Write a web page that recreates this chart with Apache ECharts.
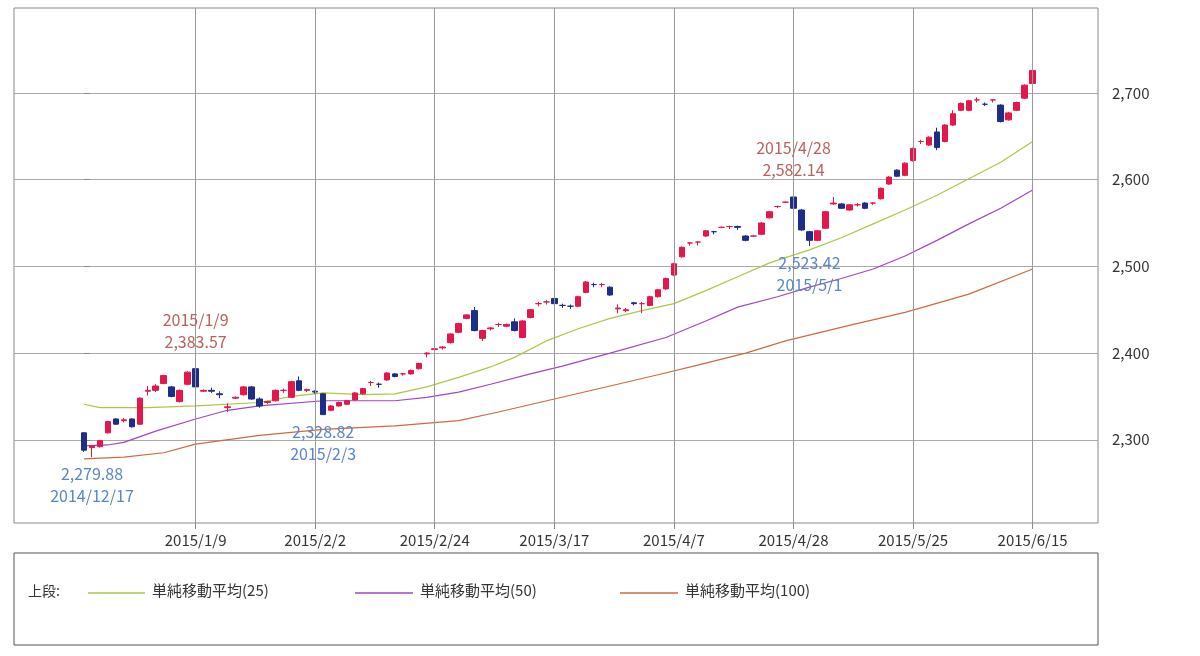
<!DOCTYPE html>
<html>
<head>
<meta charset="utf-8">
<script src="https://cdn.jsdelivr.net/npm/echarts@6/dist/echarts.min.js"></script>
<style>
  html, body { margin: 0; padding: 0; background: #fff; }
  #chart { width: 1200px; height: 656px; }
</style>
</head>
<body>
<div id="chart"></div>
<script>
// trading days, grouped by month
var tradingDays = [
    ['2014/12', [16, 17, 18, 19, 22, 24, 25, 26, 29, 30]],
    ['2015/1', [5, 6, 7, 8, 9, 13, 14, 15, 16, 19, 20, 21, 22, 23, 26, 27, 28, 29, 30]],
    ['2015/2', [2, 3, 4, 5, 6, 9, 10, 12, 13, 16, 17, 18, 19, 20, 23, 24, 25, 26, 27]],
    ['2015/3', [2, 3, 4, 5, 6, 9, 10, 11, 12, 13, 16, 17, 18, 19, 20, 23, 24, 25, 26, 27, 30, 31]],
    ['2015/4', [1, 2, 3, 6, 7, 8, 9, 10, 13, 14, 15, 16, 17, 20, 21, 22, 23, 24, 27, 28, 30]],
    ['2015/5', [1, 7, 8, 11, 12, 13, 14, 15, 18, 19, 20, 21, 22, 25, 26, 27, 28, 29]],
    ['2015/6', [1, 2, 3, 4, 5, 8, 9, 10, 11, 12, 15]]
];
// [open, close, low, high]
var ohlc = [
    [2308, 2288, 2286, 2309], [2291, 2293, 2279.88, 2294], [2292, 2299, 2291, 2300], [2308, 2321, 2307, 2322],
    [2324, 2318, 2317, 2325], [2322, 2323, 2320, 2325], [2324, 2315, 2314, 2325], [2318, 2348, 2317, 2349],
    [2356, 2357, 2351, 2362], [2357, 2362, 2355, 2364], [2365, 2374, 2364, 2375], [2361, 2350, 2349, 2362],
    [2344, 2357, 2343, 2358], [2364, 2378, 2363, 2379], [2382, 2361, 2360, 2383.57], [2356, 2357, 2355, 2358],
    [2357, 2356, 2354, 2360], [2353, 2352, 2348, 2356], [2337, 2338, 2332, 2342], [2348, 2349, 2347, 2350],
    [2352, 2361, 2351, 2362], [2361, 2347, 2346, 2362], [2347, 2339, 2337, 2349], [2343, 2344, 2341, 2345],
    [2345, 2357, 2344, 2358], [2357, 2357, 2354, 2359], [2349, 2367, 2348, 2368], [2368, 2357, 2356, 2373],
    [2357, 2358, 2355, 2359], [2356, 2355, 2353, 2357], [2353, 2329, 2328.82, 2354], [2334, 2339, 2333, 2340],
    [2339, 2343, 2338, 2344], [2341, 2345, 2340, 2346], [2346, 2354, 2345, 2355], [2353, 2359, 2352, 2360],
    [2366, 2366, 2362, 2368], [2364, 2364, 2360, 2366], [2369, 2377, 2368, 2378], [2376, 2373, 2372, 2377],
    [2376, 2376, 2374, 2377], [2376, 2380, 2375, 2381], [2382, 2388, 2381, 2389], [2399, 2400, 2395, 2401],
    [2404, 2405, 2402, 2406], [2406, 2407, 2404, 2408], [2412, 2422, 2411, 2423], [2424, 2434, 2423, 2435],
    [2440, 2444, 2439, 2445], [2449, 2426, 2425, 2453], [2417, 2426, 2414, 2427], [2428, 2429, 2426, 2430],
    [2433, 2433, 2430, 2435], [2431, 2433, 2430, 2434], [2436, 2426, 2425, 2440], [2418, 2437, 2417, 2438],
    [2441, 2450, 2440, 2451], [2457, 2457, 2454, 2459], [2459, 2459, 2456, 2461], [2463, 2457, 2456, 2464],
    [2455, 2455, 2452, 2457], [2454, 2454, 2451, 2456], [2454, 2465, 2453, 2466], [2470, 2482, 2469, 2483],
    [2479, 2479, 2476, 2481], [2479, 2479, 2476, 2481], [2476, 2467, 2466, 2477], [2451, 2452, 2446, 2456],
    [2449, 2450, 2447, 2452], [2458, 2457, 2455, 2459], [2457, 2457, 2446, 2459], [2455, 2465, 2454, 2466],
    [2465, 2473, 2464, 2474], [2474, 2486, 2473, 2487], [2490, 2503, 2489, 2504], [2511, 2522, 2510, 2523],
    [2527, 2527, 2524, 2528], [2528, 2528, 2524, 2529], [2535, 2541, 2534, 2542], [2540, 2540, 2537, 2541],
    [2545, 2545, 2544, 2546], [2546, 2546, 2543, 2547], [2546, 2545, 2542, 2547], [2535, 2530, 2529, 2536],
    [2535, 2535, 2534, 2536], [2537, 2550, 2536, 2551], [2556, 2563, 2555, 2564], [2569, 2569, 2567, 2570],
    [2574, 2574, 2573, 2575], [2580, 2567, 2566, 2582.14], [2565, 2542, 2541, 2566], [2540, 2530, 2523.42, 2541],
    [2530, 2541, 2529, 2542], [2544, 2563, 2543, 2564], [2572, 2573, 2571, 2580], [2572, 2567, 2566, 2573],
    [2565, 2571, 2564, 2572], [2571, 2571, 2569, 2573], [2573, 2567, 2566, 2574], [2573, 2573, 2571, 2574],
    [2578, 2590, 2577, 2591], [2595, 2603, 2594, 2604], [2611, 2604, 2603, 2612], [2605, 2619, 2604, 2620],
    [2622, 2636, 2621, 2637], [2644, 2644, 2641, 2646], [2640, 2649, 2639, 2650], [2655, 2637, 2634, 2660],
    [2644, 2663, 2643, 2664], [2663, 2676, 2662, 2680], [2680, 2688, 2679, 2689], [2680, 2691, 2679, 2692],
    [2692, 2692, 2689, 2695], [2687, 2687, 2685, 2689], [2692, 2692, 2689, 2693], [2686, 2667, 2666, 2687],
    [2669, 2677, 2668, 2678], [2680, 2689, 2679, 2690], [2694, 2709, 2693, 2710], [2711, 2726, 2710, 2727]
];
// moving averages read at points: [day index, value]
var ma25 = [[0, 2341], [2, 2337], [8, 2337], [14, 2339], [22, 2343], [26, 2350], [30, 2354], [35, 2352], [39, 2353],
    [43, 2361], [47, 2372], [51, 2384], [54, 2395], [58, 2414], [62, 2428], [66, 2440], [70, 2449], [74, 2457],
    [78, 2472], [82, 2488], [86, 2504], [91, 2519], [95, 2533], [99, 2549], [103, 2565], [107, 2582], [111, 2601],
    [115, 2620], [119, 2644]];
var ma50 = [[0, 2293], [3, 2294], [5, 2297], [9, 2310], [14, 2324], [18, 2334], [22, 2339], [30, 2345], [39, 2345],
    [43, 2349], [47, 2355], [51, 2364], [56, 2376], [60, 2385], [66, 2400], [73, 2418], [78, 2437], [82, 2453],
    [87, 2465], [91, 2476], [95, 2486], [99, 2497], [103, 2512], [107, 2530], [111, 2549], [115, 2567], [119, 2588]];
var ma100 = [[0, 2278], [5, 2280], [10, 2285], [14, 2295], [22, 2305], [30, 2312], [39, 2316], [47, 2322],
    [52, 2332], [59, 2347], [66, 2362], [72, 2375], [77, 2386], [83, 2400], [88, 2414], [96, 2432], [103, 2447],
    [111, 2468], [119, 2497]];
var labelDays = [14, 29, 44, 59, 74, 89, 104, 119];
var maNames = ['単純移動平均(25)', '単純移動平均(50)', '単純移動平均(100)'];

var dates = [];
tradingDays.forEach(function (m) {
    m[1].forEach(function (d) { dates.push(m[0] + '/' + d); });
});

var UP = '#e3174c', DOWN = '#1c2d8a';
var RED_TXT = '#b8625e', BLUE_TXT = '#5a86c8';
var FONT = '"Noto Sans CJK JP", sans-serif';

function fmt(v) {
    return v.toLocaleString('en-US', { minimumFractionDigits: 2, maximumFractionDigits: 2 });
}
function note(i, kind, color, dy) {
    var v = kind === 'high' ? ohlc[i][3] : ohlc[i][2];
    var text = kind === 'high' ? dates[i] + '\n' + fmt(v) : fmt(v) + '\n' + dates[i];
    return {
        coord: [i, v], value: v, symbolSize: 0,
        label: { show: true, formatter: text, color: color, fontSize: 16, lineHeight: 22,
            fontFamily: FONT, offset: [0, dy] }
    };
}

var candles = ohlc.map(function (r, i) { return [i, r[0], r[1], r[2], r[3]]; });
var myChart = echarts.init(document.getElementById('chart'));

myChart.setOption({
    animation: false,
    grid: { left: 14, right: 102, top: 8, bottom: 133, show: true, borderColor: '#888', borderWidth: 1 },
    xAxis: {
        type: 'value', min: -8.78, max: 127.2,
        splitLine: { show: false },
        axisLine: { show: false },
        axisTick: { show: true, customValues: labelDays, length: 6, lineStyle: { color: '#888' } },
        axisLabel: {
            customValues: labelDays, margin: 10, color: '#333', fontSize: 15, fontFamily: FONT,
            formatter: function (v) { return dates[Math.round(v)]; }
        }
    },
    yAxis: {
        type: 'value', position: 'right', min: 2204, max: 2798, scale: true,
        splitLine: { lineStyle: { color: '#aaa' } },
        axisLine: { show: false },
        axisTick: { show: true, customValues: [2300, 2400, 2500, 2600, 2700], length: 6, lineStyle: { color: '#888' } },
        axisLabel: { color: '#333', fontSize: 15, fontFamily: FONT, margin: 14,
            customValues: [2300, 2400, 2500, 2600, 2700],
            formatter: function (v) { return v.toLocaleString('en-US'); } }
    },
    series: [{
        type: 'candlestick',
        data: candles,
        encode: { x: 0, y: [1, 2, 3, 4] },
        barWidth: 6,
        itemStyle: { color: UP, color0: DOWN, borderColor: UP, borderColor0: DOWN, borderWidth: 1 },
        markLine: {
            silent: true, symbol: 'none', label: { show: false },
            lineStyle: { color: '#999', type: 'solid', width: 1 },
            data: labelDays.map(function (d) { return { xAxis: d }; })
        },
        markPoint: {
            symbol: 'circle',
            data: [
                note(14, 'high', RED_TXT, -36),
                note(1, 'low', BLUE_TXT, 28),
                note(30, 'low', BLUE_TXT, 28),
                note(89, 'high', RED_TXT, -36),
                note(91, 'low', BLUE_TXT, 28)
            ]
        },
        z: 3
    }, {
        type: 'line', name: maNames[0], data: ma25, showSymbol: false,
        lineStyle: { color: '#a9c846', width: 1.2 }, z: 2
    }, {
        type: 'line', name: maNames[1], data: ma50, showSymbol: false,
        lineStyle: { color: '#a046c4', width: 1.2 }, z: 2
    }, {
        type: 'line', name: maNames[2], data: ma100, showSymbol: false,
        lineStyle: { color: '#cc6a40', width: 1.2 }, z: 2
    }],
    graphic: [
        { type: 'rect', shape: { x: 14, y: 553, width: 1084, height: 92 }, style: { fill: 'none', stroke: '#555', lineWidth: 1 } },
        { type: 'text', x: 28, y: 584, style: { text: '上段:', fill: '#333', font: '14px ' + FONT } },
        { type: 'line', shape: { x1: 88, y1: 593, x2: 145, y2: 593 }, style: { stroke: '#a9c846', lineWidth: 1.5 } },
        { type: 'text', x: 152, y: 583, style: { text: maNames[0], fill: '#333', font: '15px ' + FONT } },
        { type: 'line', shape: { x1: 355, y1: 593, x2: 413, y2: 593 }, style: { stroke: '#a046c4', lineWidth: 1.5 } },
        { type: 'text', x: 420, y: 583, style: { text: maNames[1], fill: '#333', font: '15px ' + FONT } },
        { type: 'line', shape: { x1: 620, y1: 593, x2: 678, y2: 593 }, style: { stroke: '#cc6a40', lineWidth: 1.5 } },
        { type: 'text', x: 685, y: 583, style: { text: maNames[2], fill: '#333', font: '15px ' + FONT } }
    ]
});
</script>
</body>
</html>
